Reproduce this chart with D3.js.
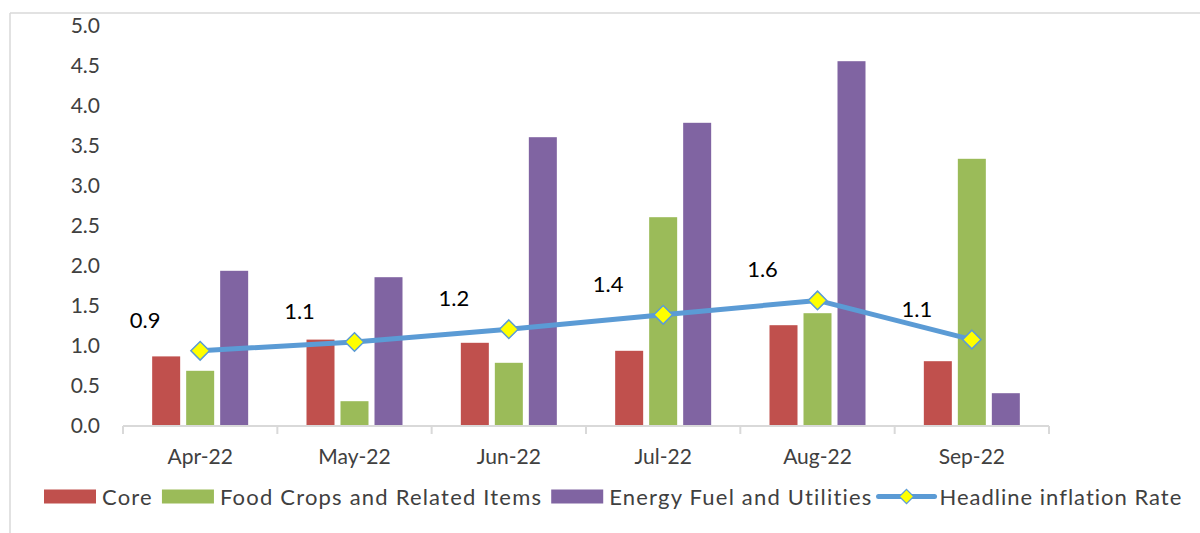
<!DOCTYPE html>
<html>
<head>
  <meta charset="utf-8">
  <title>Inflation components</title>
  <script src="https://d3js.org/d3.v7.min.js"></script>
  <style>
    body { margin: 0; background: #fff; }
    svg text { font-family: Lato, "Open Sans", sans-serif; }
  </style>
</head>
<body>
<script>
// data
var months = ["Apr-22", "May-22", "Jun-22", "Jul-22", "Aug-22", "Sep-22"];
var seriesNames = ["Core", "Food Crops and Related Items", "Energy Fuel and Utilities"];
var core = [0.87, 1.08, 1.04, 0.94, 1.26, 0.81];
var food = [0.69, 0.31, 0.79, 2.61, 1.41, 3.34];
var energy = [1.94, 1.86, 3.61, 3.79, 4.56, 0.41];
var headline = [0.94, 1.05, 1.21, 1.39, 1.57, 1.08];
var headlineLabels = ["0.9", "1.1", "1.2", "1.4", "1.6", "1.1"];
var headlineName = "Headline inflation Rate";
var yTicks = [0, 0.5, 1, 1.5, 2, 2.5, 3, 3.5, 4, 4.5, 5];

var colors = ["#c0504d", "#9bbb59", "#8064a2"];
var lineColor = "#5b9bd5";

var width = 1200, height = 533;
var plotLeft = 123, plotRight = 1049, plotTop = 26, plotBottom = 426;

var svg = d3.select("body").append("svg").attr("width", width).attr("height", height);

// outer frame (only top and left edges visible)
svg.append("line").attr("x1", 10).attr("x2", width).attr("y1", 13).attr("y2", 13)
  .attr("stroke", "#d9d9d9").attr("stroke-width", 1.5);
svg.append("line").attr("x1", 10).attr("x2", 10).attr("y1", 13).attr("y2", height)
  .attr("stroke", "#d9d9d9").attr("stroke-width", 1.5);

var x = d3.scaleBand().domain(months).range([plotLeft, plotRight]).padding(0);
var inner = d3.scaleBand().domain(d3.range(3)).range([-48, 48]).paddingInner(6 / 34).paddingOuter(0);
var y = d3.scaleLinear().domain([0, 5]).range([plotBottom, plotTop]);

// y labels, no axis line
var yAxis = svg.append("g")
  .attr("transform", "translate(" + 100 + ",0)")
  .call(d3.axisLeft(y).tickValues(yTicks).tickFormat(d3.format(".1f")).tickSize(0).tickPadding(0));
yAxis.select(".domain").remove();
yAxis.selectAll("text").attr("font-size", 21).attr("fill", "#404040")
  .attr("font-family", "Lato, sans-serif");

// bars
var series = [core, food, energy];
series.forEach(function(vals, si) {
  svg.append("g").selectAll("rect")
    .data(vals)
    .enter()
    .append("rect")
    .attr("x", function(d, i) { return x(months[i]) + x.bandwidth() / 2 + inner(si); })
    .attr("y", function(d) { return y(d); })
    .attr("width", inner.bandwidth())
    .attr("height", function(d) { return y(0) - y(d); })
    .attr("fill", colors[si]);
});

// x axis
var xAxis = svg.append("g").attr("transform", "translate(0," + plotBottom + ")");
xAxis.append("line").attr("x1", plotLeft).attr("x2", plotRight).attr("stroke", "#d9d9d9").attr("stroke-width", 2);
var edges = months.map(function(m) { return x(m); }).concat([plotRight]);
xAxis.selectAll(".tk").data(edges).enter().append("line")
  .attr("x1", function(d) { return d; }).attr("x2", function(d) { return d; })
  .attr("y1", 0).attr("y2", 8).attr("stroke", "#d9d9d9").attr("stroke-width", 2);
xAxis.selectAll(".lbl").data(months).enter().append("text")
  .attr("x", function(d) { return x(d) + x.bandwidth() / 2; })
  .attr("y", 38)
  .attr("text-anchor", "middle")
  .attr("font-size", 21)
  .attr("fill", "#404040")
  .text(function(d) { return d; });

// headline line
var cx = function(d, i) { return x(months[i]) + x.bandwidth() / 2; };
var line = d3.line().x(cx).y(function(d) { return y(d); });
svg.append("path").datum(headline)
  .attr("d", line)
  .attr("fill", "none")
  .attr("stroke", lineColor)
  .attr("stroke-width", 5)
  .attr("stroke-linejoin", "round");

var diamond = d3.symbol().type(d3.symbolDiamond2).size(220);
svg.append("g").selectAll("path")
  .data(headline)
  .enter()
  .append("path")
  .attr("d", diamond)
  .attr("transform", function(d, i) { return "translate(" + cx(d, i) + "," + y(d) + ")"; })
  .attr("fill", "#ffff00")
  .attr("stroke", lineColor)
  .attr("stroke-width", 1.5);

// data labels above-left of markers
svg.append("g").selectAll("text")
  .data(headline)
  .enter()
  .append("text")
  .attr("x", function(d, i) { return cx(d, i) - 55; })
  .attr("y", function(d) { return y(d) - 31 + 8; })
  .attr("text-anchor", "middle")
  .attr("font-size", 22)
  .attr("fill", "#000")
  .text(function(d, i) { return headlineLabels[i]; });

// legend
var legend = svg.append("g").attr("transform", "translate(44,496.5)");
var lx = 0;
var items = seriesNames.map(function(n, i) { return { name: n, color: colors[i], type: "bar" }; });
items.push({ name: headlineName, color: lineColor, type: "line" });
items.forEach(function(it) {
  if (it.type === "bar") {
    legend.append("rect").attr("x", lx).attr("y", -7).attr("width", 52).attr("height", 14).attr("fill", it.color);
  } else {
    legend.append("line").attr("x1", lx - 3).attr("x2", lx + 53).attr("y1", 0).attr("y2", 0)
      .attr("stroke", lineColor).attr("stroke-width", 5).attr("stroke-linecap", "round");
    legend.append("path").attr("d", d3.symbol().type(d3.symbolDiamond2).size(130))
      .attr("transform", "translate(" + (lx + 25) + ",0)")
      .attr("fill", "#ffff00").attr("stroke", lineColor).attr("stroke-width", 1.2);
  }
  lx += (it.type === "bar" ? 58 : 58);
  var t = legend.append("text").attr("x", lx).attr("y", 8)
    .attr("font-size", 22).attr("letter-spacing", it.type === "bar" ? 1.2 : 1.0).attr("fill", "#404040")
    .text(it.name);
  lx += t.node().getComputedTextLength() + 9;
});
</script>
</body>
</html>
